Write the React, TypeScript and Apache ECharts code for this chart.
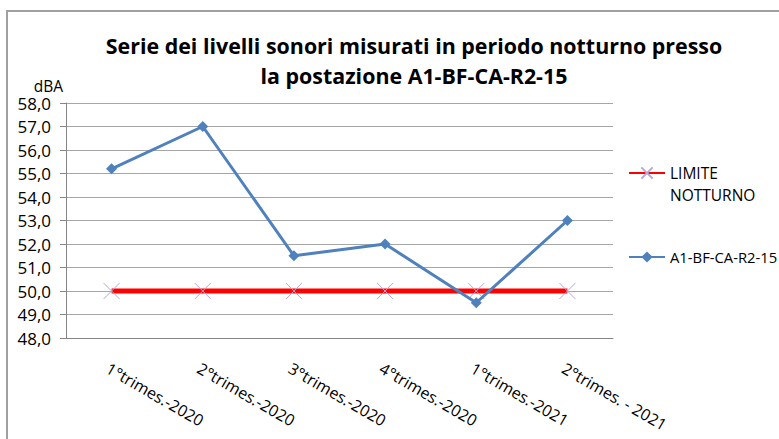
import React, { useEffect, useRef } from 'react';
import * as echarts from 'echarts';

const categories = [
  '1°trimes.-2020',
  '2°trimes.-2020',
  '3°trimes.-2020',
  '4°trimes.-2020',
  '1°trimes.-2021',
  '2°trimes. - 2021',
];
const limitValues = [50, 50, 50, 50, 50, 50];
const stationValues = [55.2, 57.0, 51.5, 52.0, 49.5, 53.0];
const limitName = 'LIMITE NOTTURNO';
const stationName = 'A1-BF-CA-R2-15';
const yMin = 48;
const yMax = 58;
const yInterval = 1;
const titleText = 'Serie dei livelli sonori misurati in periodo notturno presso\nla postazione A1-BF-CA-R2-15';
const yName = 'dBA';

const FONT = '"Open Sans", sans-serif';

export default function App() {
  const ref = useRef<HTMLDivElement>(null);
  useEffect(() => {
    if (!ref.current) return;
    const chart = echarts.init(ref.current, null, { renderer: 'svg' });
    chart.setOption({
      animation: false,
      backgroundColor: '#ffffff',
      textStyle: { fontFamily: FONT },
      title: {
        text: titleText,
        left: 409,
        top: 25,
        textAlign: 'center',
        textStyle: {
          fontFamily: FONT,
          fontSize: 21.4,
          fontWeight: 'bold',
          color: '#000000',
          lineHeight: 30,
        },
      },
      graphic: [
        {
          type: 'rect',
          shape: { x: 7, y: 11, width: 1000, height: 1000 },
          style: { fill: 'none', stroke: '#a0a0a0', lineWidth: 2 },
          silent: true,
        },
      ],
      legend: [
        {
          data: [limitName],
          orient: 'vertical',
          left: 628,
          top: 140,
          padding: 0,
          itemWidth: 36,
          itemHeight: 14,
          formatter: () => '\nLIMITE\nNOTTURNO',
          textStyle: {
            fontFamily: FONT,
            fontSize: 15.5,
            color: '#000000',
            lineHeight: 22,
          },
        },
        {
          data: [stationName],
          orient: 'vertical',
          left: 628,
          top: 246,
          padding: 0,
          itemWidth: 36,
          itemHeight: 14,
          textStyle: {
            fontFamily: FONT,
            fontSize: 14.8,
            color: '#000000',
            lineHeight: 22,
          },
        },
      ],
      grid: { left: 66, right: 166, top: 103, bottom: 101, containLabel: false },
      xAxis: {
        type: 'category',
        data: categories,
        boundaryGap: true,
        axisLine: { show: true, lineStyle: { color: '#868686', width: 1 } },
        axisTick: { show: false },
        axisLabel: {
          rotate: -30,
          margin: 22,
          align: 'left',
          verticalAlign: 'top',
          fontFamily: FONT,
          fontSize: 16,
          color: '#000000',
          interval: 0,
        },
        splitLine: { show: false },
      },
      yAxis: {
        type: 'value',
        min: yMin,
        max: yMax,
        interval: yInterval,
        name: yName,
        nameLocation: 'end',
        nameGap: 10,
        nameTextStyle: {
          fontFamily: FONT,
          fontSize: 15.5,
          lineHeight: 14,
          color: '#000000',
          align: 'right',
          padding: [0, 3, 0, 0],
        },
        axisLine: { show: true, lineStyle: { color: '#868686', width: 1 } },
        axisTick: { show: true, length: 6, lineStyle: { color: '#868686' } },
        axisLabel: {
          margin: 15,
          fontFamily: FONT,
          fontSize: 17,
          lineHeight: 14,
          color: '#000000',
          formatter: (v: number) => v.toFixed(1).replace('.', ','),
        },
        splitLine: { show: true, lineStyle: { color: '#a6a6a6', width: 1 } },
      },
      series: [
        {
          name: limitName,
          type: 'line',
          data: limitValues,
          symbol: 'path://M0,0L10,10M10,0L0,10',
          symbolSize: 16,
          showSymbol: true,
          itemStyle: { color: '#ff0000', borderColor: '#b8a8d8', borderWidth: 1 },
          lineStyle: { color: '#ff0000', width: 5 },
          z: 2,
        },
        {
          name: stationName,
          type: 'line',
          data: stationValues,
          symbol: 'diamond',
          symbolSize: 11,
          itemStyle: { color: '#4f81bd' },
          lineStyle: { color: '#4f81bd', width: 3 },
          z: 3,
        },
      ],
    });
    return () => chart.dispose();
  }, []);
  return (
    <div
      ref={ref}
      style={{ position: 'fixed', left: 0, top: 0, width: 779, height: 439 }}
    />
  );
}
